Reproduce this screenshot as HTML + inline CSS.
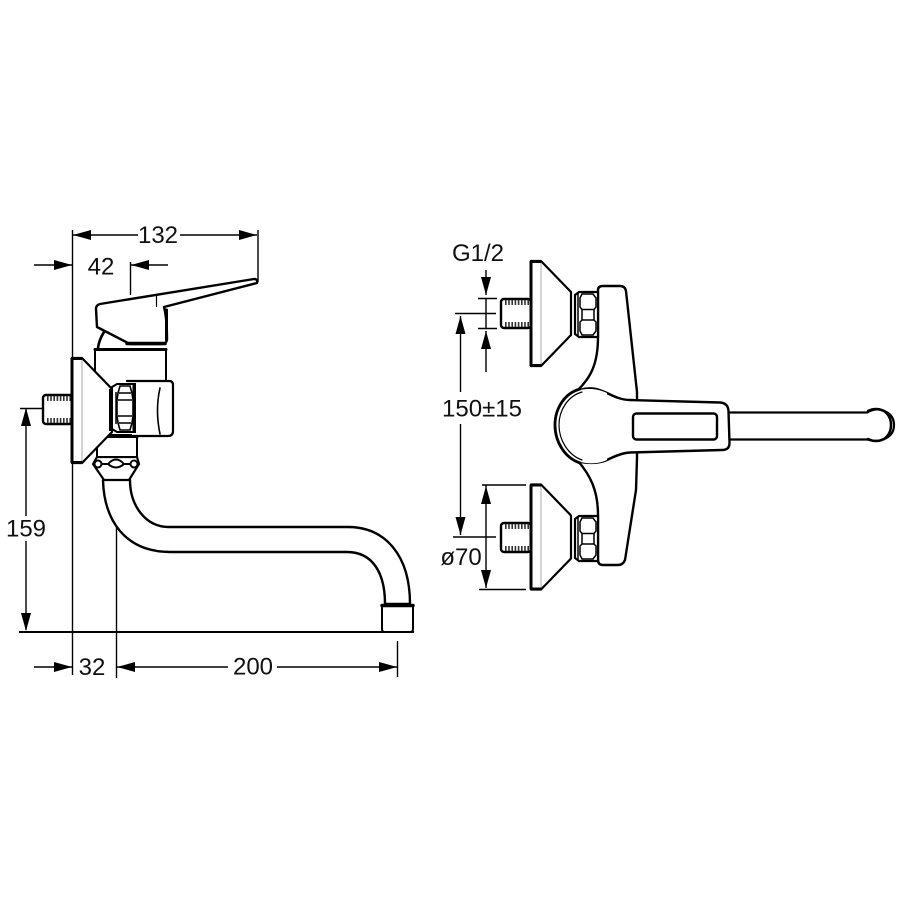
<!DOCTYPE html>
<html>
<head>
<meta charset="utf-8">
<style>
html,body{margin:0;padding:0;background:#fff;}
svg{display:block;}
text{font-family:"Liberation Sans",sans-serif;font-size:24px;fill:#111;text-anchor:middle;}
</style>
</head>
<body>
<svg width="904" height="904" viewBox="0 0 904 904" xmlns="http://www.w3.org/2000/svg">
<defs>
  <g id="nut">
    <path d="M2 4 L6 1 H25 V46 H6 L2 43 Z" fill="#fff" stroke="#000" stroke-width="2.200"/>
    <path d="M5 2 V45" stroke="#000" stroke-width="1.500" fill="none"/>
    <path d="M9 3 H20 L23 7 V16 L21 18.500 H9 L7 16 V7 Z" fill="#fff" stroke="#000" stroke-width="1.500"/>
    <path d="M9 29 H21 L23 31 V40 L20 44 H9 L7 40 V31 Z" fill="#fff" stroke="#000" stroke-width="1.500"/>
    <path d="M9 18.500 V29 M21 18.500 V29" stroke="#000" stroke-width="1.500" fill="none"/>
  </g>
  <g id="nutL">
    <path d="M2 3 L7 0 H25 V48 H7 L2 45 Z" fill="#fff" stroke="#000" stroke-width="2"/>
    <path d="M24 1 V47" stroke="#000" stroke-width="3" fill="none"/>
    <path d="M6 8 V40" stroke="#000" stroke-width="1.500" fill="none"/>
    <path d="M8 9 L10 2 H20 L22 9 L23 16 V32 L22 39 L20 46 H10 L8 39 L7 32 V16 Z" fill="#fff" stroke="#000" stroke-width="1.600"/>
    <path d="M9 9 H21 M8 16 H22 M8 32 H22 M9 39 H21" stroke="#000" stroke-width="1.600" fill="none"/>
  </g>
  <g id="stub">
    <rect x="1" y="1" width="30" height="29" rx="3" fill="#fff" stroke="#000" stroke-width="2.400"/>
    <path d="M5 4.500 H31 M5 26.500 H31" stroke="#333" stroke-width="5" stroke-dasharray="1.600 1.600" fill="none"/>
  </g>
  <g id="flange">
    <path d="M0 0 H10 L40 31 V74 L10 105 H0 Z" fill="#fff" stroke="#000" stroke-width="2.200" stroke-linejoin="round"/>
    <path d="M0 0 V105" stroke="#000" stroke-width="3"/>
    <path d="M0 0.500 H10 M0 104.500 H10" stroke="#000" stroke-width="3"/>
    <path d="M10 2 V103" stroke="#aaa" stroke-width="1"/>
  </g>
  <path id="arr" d="M0 0 L-18 -5 V5 Z" fill="#000"/>
</defs>

<!-- LEFT VIEW: dimensions -->
<g stroke="#000" stroke-width="1.400" fill="none">
  <path d="M72.500 230 V359 M72.500 458 V675"/>
  <path d="M73 235 H138 M180 235 H257"/>
  <path d="M258 230 V282"/>
  <path d="M34 265 H72 M131 265 H168 M130.500 262 V295"/>
  <path d="M20 408.500 H61"/>
  <path d="M26 408 V516 M26 541 V630"/>
  <path d="M34 667 H72 M117 667 H228 M277 667 H397"/>
  <path d="M116.500 494 V678 M397.500 641 V677"/>
</g>
<path d="M19 632 H414" stroke="#000" stroke-width="2" fill="none"/>
<use href="#arr" transform="translate(73,235) rotate(180)"/>
<use href="#arr" transform="translate(257,235)"/>
<use href="#arr" transform="translate(72,265)"/>
<use href="#arr" transform="translate(131,265) rotate(180)"/>
<use href="#arr" transform="translate(26,408) rotate(-90)"/>
<use href="#arr" transform="translate(26,631) rotate(90)"/>
<use href="#arr" transform="translate(72,667)"/>
<use href="#arr" transform="translate(117,667) rotate(180)"/>
<use href="#arr" transform="translate(397,667)"/>
<text x="158" y="243">132</text>
<text x="101" y="274.500">42</text>
<text x="26" y="536.500">159</text>
<text x="92" y="675">32</text>
<text x="253" y="674.500">200</text>

<!-- LEFT VIEW: faucet -->
<g fill="#fff" stroke="#000" stroke-linejoin="round" stroke-linecap="round">
  <!-- spout -->
  <path d="M103 480 C104 520 125 552 170 552 H347 C372 552 385 572 385 604 H410 C410 555 385 527 348 527 H169 C145 527 130 505 130 480" stroke-width="2.400"/>
  <path d="M382 607 Q382 605 384 605 H411 Q413 605 413 607 V629 Q413 632 410 632 H385 Q382 632 382 629 Z" stroke-width="2"/>
  <path d="M382 605.500 H413" stroke-width="3.500"/>
  <!-- union nut -->
  <path d="M97 457 L93 464 L104 480 H129 L139 464 L137 457 Z" stroke-width="2.200"/>
  <circle cx="98" cy="464" r="3.500" stroke-width="2"/>
  <circle cx="134" cy="464" r="3.500" stroke-width="2"/>
  <path d="M108 464 Q116 455 124 464 Q116 471 108 464 Z" stroke-width="2"/>
  <path d="M102 464 H108 M124 464 H130" stroke-width="2"/>
  <path d="M97 436 H137 V457 H97 Z" stroke-width="2"/>
  <path d="M104 436 H137" stroke-width="4"/>
  <!-- neck and body -->
  <path d="M104 333 L98 346 V349 H125 L160 348 L164 342 Z" stroke="none"/>
  <path d="M104 332 Q99 340 98 348" fill="none" stroke-width="2.600"/>
  <path d="M95 381 V349 H166 V381" fill="#fff" stroke-width="2" stroke-linecap="butt"/>
  <path d="M95 349.500 H166" stroke-width="3"/>
  <path d="M127 381 H169 Q173 381 173 385 V431 Q173 436 168 436 H132" stroke-width="2.200"/>
  <path d="M160 388 Q155 410 160 434" stroke-width="1.600" fill="none"/>
  <!-- handle -->
  <path d="M100 304 L254 279 Q258 279 257 283 L164 307 Q167 318 167 340 Q166 344 162 344 H130 L97 327 L96 309 Q96 305 100 304 Z" stroke-width="2.400"/>
  <path d="M127 343.500 H165" stroke-width="3.500"/>
  <path d="M166.500 310 V340" stroke-width="3"/>
</g>
<path d="M156.500 296 V307" stroke="#000" stroke-width="1.200"/>
<use href="#stub" x="42" y="394"/>
<use href="#flange" x="72" y="358"/>
<path d="M110 389 V431" stroke="#000" stroke-width="2"/>
<use href="#nutL" x="110" y="384"/>

<!-- RIGHT VIEW: dimensions -->
<g stroke="#000" stroke-width="1.400" fill="none">
  <path d="M486 270 V295 M486 298 V328 M486 331 V372"/>
  <path d="M478 298.500 H497 M478 328.500 H497 M455 313.500 H496"/>
  <path d="M460.500 316 V392 M460.500 424 V535"/>
  <path d="M453 537 H496"/>
  <path d="M482 485 H526 M479 589.500 H526"/>
  <path d="M486 485 V588"/>
</g>
<use href="#arr" transform="translate(486,295) rotate(90)"/>
<use href="#arr" transform="translate(486,331) rotate(-90)"/>
<use href="#arr" transform="translate(460.500,316) rotate(-90)"/>
<use href="#arr" transform="translate(460.500,535) rotate(90)"/>
<use href="#arr" transform="translate(486,486) rotate(-90)"/>
<use href="#arr" transform="translate(486,588) rotate(90)"/>
<text x="478" y="261">G1/2</text>
<text x="482" y="416.500">150±15</text>
<text x="461" y="565">ø70</text>

<!-- RIGHT VIEW: faucet -->
<g fill="#fff" stroke="#000" stroke-linejoin="round" stroke-linecap="round">
  <!-- spout end -->
  <path d="M725 412.500 H867 Q875 408 882 410 Q894 414 894 425 Q894 436 882 440 Q875 442 867 439.500 H725 Z" stroke-width="2.200"/>
  <path d="M868 411 Q876 407 884 411 Q891 416 891 425 Q891 434 884 439 Q876 443 868 439" fill="none" stroke-width="2.500"/>
  <!-- wall body -->
  <path d="M598 290 Q598 286 603 286 H620 Q625 286 626 291 L637 392 V458 L636 490 L625 560 Q623 565 618 565 H603 Q598 565 598 560 V515 C598 490 590 475 578 461 C565 455 555 442 555 425 C555 408 565 396 578 390 C590 378 598 365 598 337 Z" stroke-width="2.400"/>
  <!-- lever -->
  <path d="M580 390 C592 386 600 390 607 393 C615 397 622 400 630 400 L720 402.500 Q728 403 728.500 411 L729.500 443 Q729.500 450 722 450 L630 452.500 C622 453 615 456 607 460 C600 463 592 464 580 462" fill="#fff" stroke-width="2.400"/>
  <path d="M580 390 C565 393 556 408 556 425 C556 442 565 458 580 462 C590 464 598 464 607 460 L607 393 C598 389 590 388 580 390 Z" fill="#fff" stroke="none"/>
  <path d="M580 389 C565 393 555 408 555 425 C555 442 565 458 580 463" fill="none" stroke-width="2.800"/>
  <path d="M582 392 C568 396 559 410 559 425 C559 440 568 455 582 460" fill="none" stroke-width="1.200"/>
  <rect x="633" y="413.500" width="84" height="26" rx="3.500" stroke-width="2.400"/>
</g>
<use href="#stub" x="500" y="298"/>
<use href="#stub" x="500" y="522"/>
<use href="#flange" x="531" y="261"/>
<use href="#flange" x="531" y="484.500"/>
<use href="#nut" x="573" y="291"/>
<use href="#nut" x="573" y="515"/>
</svg>
</body>
</html>
